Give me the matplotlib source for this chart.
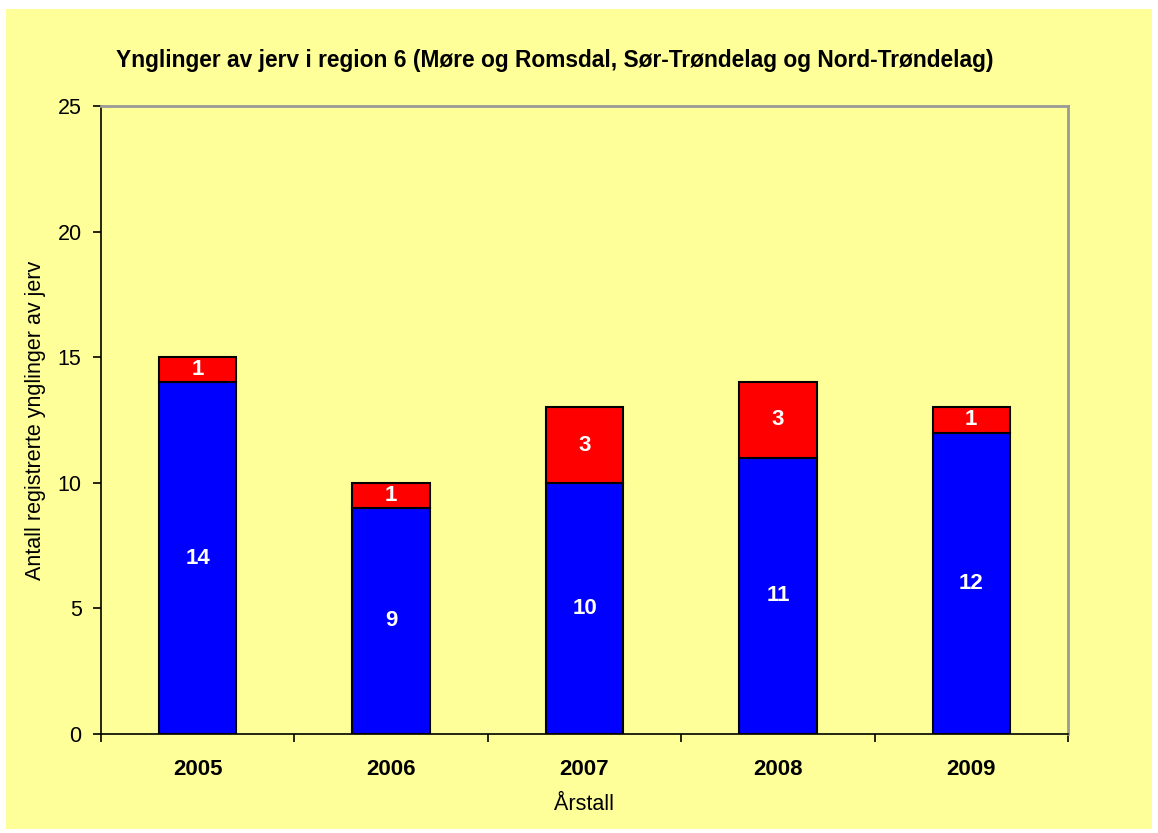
import matplotlib
matplotlib.use("Agg")
import matplotlib.pyplot as plt
from matplotlib.patches import Rectangle
import numpy as np

# data
years = ["2005", "2006", "2007", "2008", "2009"]
blue_vals = [14, 9, 10, 11, 12]
red_vals = [1, 1, 3, 3, 1]

bg = "#FFFF99"
plt.rcParams['font.family'] = ['Liberation Sans', 'DejaVu Sans']

fig = plt.figure(figsize=(11.58, 8.33), dpi=100)
fig.patch.set_facecolor("white")
# yellow chart area with a thin white frame
fig.patches.append(Rectangle((6 / 1158, 4 / 833), 1146 / 1158, 820 / 833,
                             transform=fig.transFigure, facecolor=bg,
                             edgecolor="none", zorder=-5))

ax = fig.add_axes([101 / 1158, 1 - 734 / 833, 967 / 1158, 628 / 833])
ax.set_facecolor(bg)

x = np.arange(len(years))
w = 0.4
ax.bar(x, blue_vals, w, color="#0000FF", edgecolor="black", linewidth=1.5, zorder=3)
ax.bar(x, red_vals, w, bottom=blue_vals, color="#FF0000", edgecolor="black",
       linewidth=1.5, zorder=3)

for i in range(len(years)):
    ax.text(x[i], blue_vals[i] / 2, str(blue_vals[i]), color="white",
            fontsize=16, fontweight="bold", ha="center", va="center", zorder=4)
    ax.text(x[i], blue_vals[i] + red_vals[i] / 2, str(red_vals[i]), color="white",
            fontsize=16, fontweight="bold", ha="center", va="center", zorder=4)

ax.set_xlim(-0.5, len(years) - 0.5)
ax.set_ylim(0, 25)
ax.set_yticks([0, 5, 10, 15, 20, 25])
ax.tick_params(axis="y", labelsize=15.5, length=6, width=1.2, direction="out", pad=8)

# category labels centred, ticks at the boundaries
ax.set_xticks(x)
ax.set_xticklabels(years, fontsize=16, fontweight="bold")
ax.tick_params(axis="x", length=0, pad=18)
ax.set_xticks(np.arange(-0.5, len(years)), minor=True)
ax.tick_params(axis="x", which="minor", length=6, width=1.2, direction="out")

for s in ["top", "right"]:
    ax.spines[s].set_color("#999999")
    ax.spines[s].set_linewidth(2)
for s in ["left", "bottom"]:
    ax.spines[s].set_color("black")
    ax.spines[s].set_linewidth(1.2)

ax.set_xlabel("Årstall", fontsize=15.5, labelpad=10)
ax.set_ylabel("Antall registrerte ynglinger av jerv", fontsize=15.5, labelpad=8)
fig.text(555 / 1158, 1 - 60 / 833,
         "Ynglinger av jerv i region 6 (Møre og Romsdal, Sør-Trøndelag og Nord-Trøndelag)",
         fontsize=16.4, fontweight="bold", ha="center", va="center")

fig.savefig("out.png", dpi=100, facecolor=fig.get_facecolor())
